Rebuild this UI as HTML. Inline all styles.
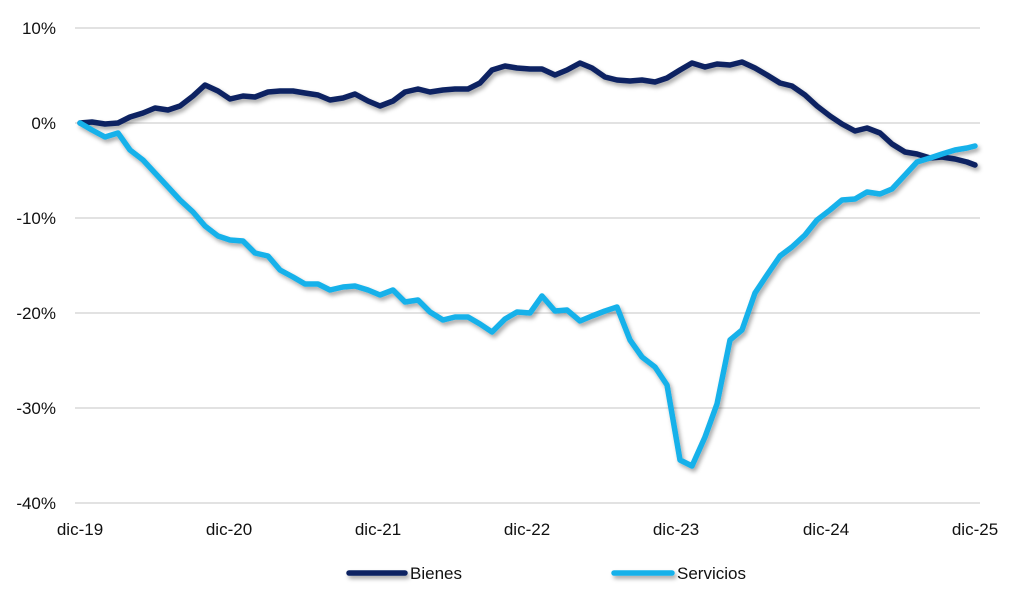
<!DOCTYPE html><html><head><style>body{margin:0;background:#fff}svg text{font-family:"Liberation Sans",sans-serif;font-size:17px;fill:#111}</style></head><body>
<svg width="1024" height="599" viewBox="0 0 1024 599">
<defs><filter id="sh" filterUnits="userSpaceOnUse" x="0" y="0" width="1024" height="599"><feDropShadow dx="2" dy="3" stdDeviation="2" flood-color="#000" flood-opacity="0.35"/></filter></defs>
<g stroke="#d9d9d9" stroke-width="1.5">
<line x1="75" x2="980" y1="28" y2="28"/><line x1="75" x2="980" y1="123" y2="123"/><line x1="75" x2="980" y1="218" y2="218"/><line x1="75" x2="980" y1="313" y2="313"/><line x1="75" x2="980" y1="408" y2="408"/><line x1="75" x2="980" y1="503" y2="503"/></g>
<g text-anchor="end"><text x="56" y="34">10%</text><text x="56" y="129">0%</text><text x="56" y="224">-10%</text><text x="56" y="319">-20%</text><text x="56" y="414">-30%</text><text x="56" y="509">-40%</text></g>
<g text-anchor="middle"><text x="80" y="535">dic-19</text><text x="229" y="535">dic-20</text><text x="378" y="535">dic-21</text><text x="527" y="535">dic-22</text><text x="676" y="535">dic-23</text><text x="826" y="535">dic-24</text><text x="975" y="535">dic-25</text></g>
<g fill="none" stroke-width="5.5" stroke-linejoin="round" stroke-linecap="round" filter="url(#sh)">
<polyline stroke="#0b2462" points="80,123 92,122 105,124 118,123 130,117 143,113 155,108 168,110 180,106 193,96 205,85 218,91 230,99 243,96 255,97 268,92 280,91 293,91 305,93 318,95 330,100 343,98 355,94 368,101 380,106 393,101 405,92 418,89 430,92 443,90 455,89 468,89 480,83 492,70 505,66 517,68 530,69 542,69 555,75 567,70 580,63 592,68 605,77 617,80 630,81 642,80 655,82 667,78 680,70 692,63 705,67 717,64 730,65 742,62 755,68 767,75 780,83 792,86 805,95 817,106 830,116 842,124 855,131 867,128 880,133 892,144 905,152 917,154 930,158 942,157 955,159 967,162 975,165"/>
<polyline stroke="#13b1ea" points="80,123 92,130 105,137 118,133 130,150 143,160 155,173 168,187 180,200 193,212 205,226 218,236 230,240 243,241 255,253 268,256 280,270 293,277 305,284 318,284 330,290 343,287 355,286 368,290 380,295 393,290 405,302 418,300 430,312 443,320 455,317 468,317 480,324 492,332 505,319 517,312 530,313 542,296 555,311 567,310 580,321 592,316 605,311 617,307 630,340 642,357 655,367 667,385 680,460 692,466 705,437 717,404 730,340 742,330 755,293 767,275 780,256 792,247 805,235 817,220 830,210 842,200 855,199 867,192 880,194 892,189 905,175 917,162 930,158 942,154 955,150 967,148 975,146"/>
<line x1="349" x2="405" y1="573" y2="573" stroke="#0b2462"/>
<line x1="614" x2="672" y1="573" y2="573" stroke="#13b1ea"/>
</g>
<text x="410" y="579">Bienes</text>
<text x="677" y="579">Servicios</text>
</svg></body></html>
